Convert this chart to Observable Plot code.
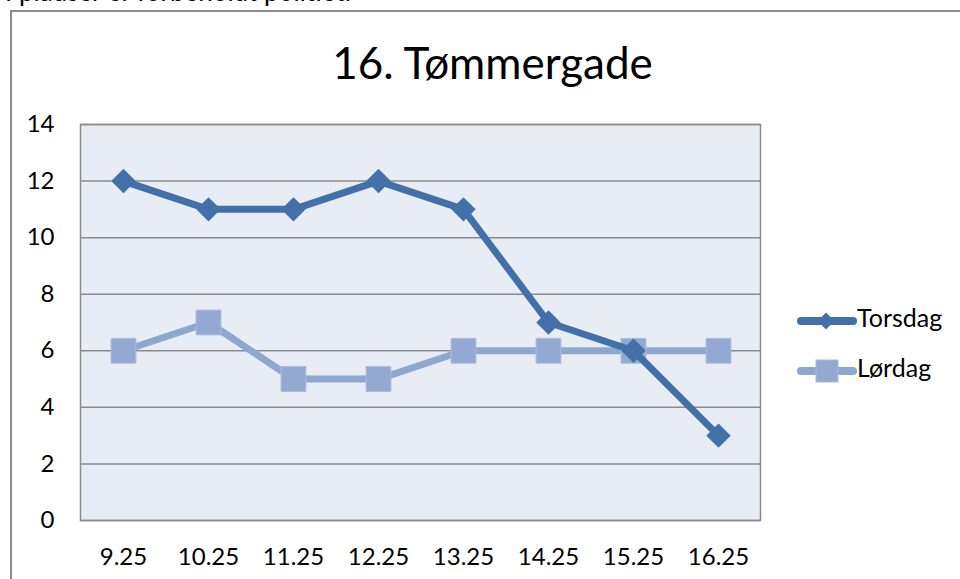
<!DOCTYPE html>
<html>
<head>
<meta charset="utf-8">
<script src="https://cdn.jsdelivr.net/npm/d3@7"></script>
<script src="https://cdn.jsdelivr.net/npm/@observablehq/plot@0.6"></script>
<style>
  html, body { margin: 0; padding: 0; background: #fff; overflow: hidden; }
  body { width: 960px; height: 579px; position: relative; font-family: Lato, "Open Sans", sans-serif; }
  #above { position: absolute; left: 5px; top: -25px; font-size: 26px; color: #000; white-space: nowrap; }
  #box { position: absolute; left: 10px; top: 10px; width: 960px; height: 600px; border: 2px solid #8c8c8c; box-sizing: border-box; }
  #chart { position: absolute; left: 0; top: 0; }
  #title { position: absolute; left: 10px; width: 965px; top: 36px; text-align: center; font-size: 44px; color: #000; }
  .leg { position: absolute; left: 797px; font-size: 25px; color: #000; line-height: 28px; }
  .leg svg { vertical-align: middle; }
</style>
</head>
<body>
<div id="above">I pladser er forbeholdt politiet.</div>
<div id="box"></div>
<div id="chart"></div>
<div id="title">16. Tømmergade</div>
<div id="legend"></div>
<script>
const categories = ["9.25", "10.25", "11.25", "12.25", "13.25", "14.25", "15.25", "16.25"];
const torsdag = [12, 11, 11, 12, 11, 7, 6, 3];
const lordag = [6, 7, 5, 5, 6, 6, 6, 6];
const yTicks = [0, 2, 4, 6, 8, 10, 12, 14];
const seriesNames = ["Torsdag", "Lørdag"];
const colors = { "Torsdag": "#4470a9", "Lørdag": "#8ea7cf" };

const rows = [];
categories.forEach((c, i) => {
  rows.push({ time: c, value: torsdag[i], series: "Torsdag" });
  rows.push({ time: c, value: lordag[i], series: "Lørdag" });
});
const tRows = rows.filter(d => d.series === "Torsdag");
const lRows = rows.filter(d => d.series === "Lørdag");

const chart = Plot.plot({
  width: 960,
  height: 579,
  marginLeft: 80,
  marginRight: 200,
  marginTop: 124,
  marginBottom: 59,
  style: { fontFamily: "Lato, 'Open Sans', sans-serif", fontSize: "24px", color: "#000", background: "transparent" },
  x: { type: "point", domain: categories, padding: 0.5, label: null },
  y: { domain: [0, 14], ticks: yTicks, label: null },
  marks: [
    Plot.frame({ fill: "#e8edf5", stroke: null }),
    Plot.gridY(yTicks, { stroke: "#8a8a8a", strokeOpacity: 1, strokeWidth: 1.5 }),
    Plot.frame({ stroke: "#8a8a8a", strokeWidth: 1.5 }),
    Plot.axisY({ ticks: yTicks, tickSize: 0, tickPadding: 26, fontSize: 24, label: null }),
    Plot.axisX({ tickSize: 0, tickPadding: 27, fontSize: 24, label: null }),
    Plot.line(lRows, { x: "time", y: "value", stroke: colors["Lørdag"], strokeWidth: 7, strokeLinejoin: "round" }),
    Plot.dot(lRows, { x: "time", y: "value", symbol: "square", r: 14, fill: "#94a9d1", stroke: "#a9bbdc", strokeWidth: 1 }),
    Plot.line(tRows, { x: "time", y: "value", stroke: colors["Torsdag"], strokeWidth: 7, strokeLinejoin: "round" }),
    Plot.dot(tRows, { x: "time", y: "value", symbol: "diamond2", r: 11, fill: colors["Torsdag"], stroke: null })
  ]
});
document.getElementById("chart").appendChild(chart);

// legend
const legend = document.getElementById("legend");
const legTops = [303, 353];
seriesNames.forEach((name, i) => {
  const div = document.createElement("div");
  div.className = "leg";
  div.style.top = legTops[i] + "px";
  const isT = name === "Torsdag";
  const sym = isT
    ? `<rect x="23" y="5" width="12" height="12" transform="rotate(45 29 11)" fill="${colors[name]}"/>`
    : `<rect x="19" y="0" width="22" height="22" fill="#94a9d1" stroke="#a9bbdc"/>`;
  div.innerHTML = `<svg width="60" height="22" style="overflow:visible"><line x1="4" x2="56" y1="11" y2="11" stroke="${colors[name]}" stroke-width="8" stroke-linecap="round"/>${sym}</svg><span>${name}</span>`;
  legend.appendChild(div);
});
</script>
</body>
</html>
